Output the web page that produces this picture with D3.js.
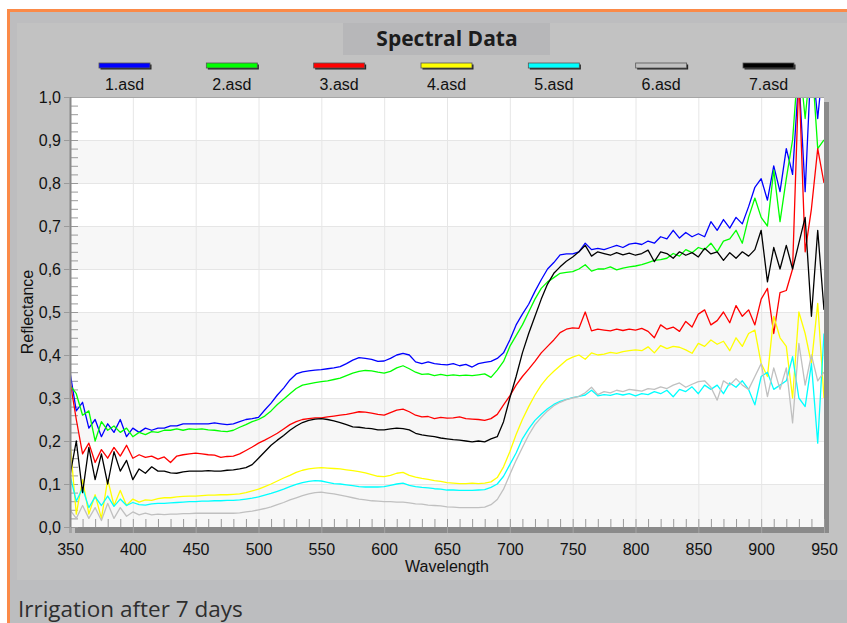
<!DOCTYPE html>
<html>
<head>
<meta charset="utf-8">
<script src="https://cdn.jsdelivr.net/npm/d3@7"></script>
<style>
  body { margin: 0; background: #ffffff; }
  svg { display: block; }
</style>
</head>
<body>
<div id="wrapper"></div>
<script>
// ---------- DATA -----------------------------------------------
const seriesNames = ["1.asd", "2.asd", "3.asd", "4.asd", "5.asd", "6.asd", "7.asd"];
const seriesColors = ["#0000ff", "#00ff00", "#ff0000", "#ffff00", "#00ffff", "#c0c0c0", "#000000"];

// wavelength grid, 350 to 950 nm every 5 nm
const wavelengths = d3.range(350, 951, 5);

const refl1 = [
  0.36, 0.27, 0.29, 0.23, 0.25, 0.21, 0.24, 0.22, 0.25, 0.21,
  0.23, 0.22, 0.23, 0.225, 0.23, 0.23, 0.235, 0.235, 0.24, 0.24,
  0.24, 0.24, 0.24, 0.242, 0.24, 0.238, 0.24, 0.245, 0.25, 0.252,
  0.255, 0.272, 0.288, 0.307, 0.323, 0.342, 0.356, 0.361, 0.363, 0.365,
  0.366, 0.368, 0.37, 0.373, 0.38, 0.388, 0.394, 0.392, 0.39, 0.385,
  0.386, 0.392, 0.4, 0.404, 0.4, 0.384, 0.38, 0.384, 0.38, 0.378,
  0.377, 0.38, 0.375, 0.378, 0.372, 0.38, 0.383, 0.385, 0.392, 0.405,
  0.435, 0.47, 0.495, 0.518, 0.548, 0.575, 0.6, 0.615, 0.633, 0.635,
  0.635, 0.64, 0.66, 0.645, 0.648, 0.645, 0.65, 0.655, 0.65, 0.658,
  0.66, 0.657, 0.665, 0.66, 0.675, 0.67, 0.69, 0.672, 0.685, 0.675,
  0.682, 0.675, 0.71, 0.69, 0.715, 0.695, 0.72, 0.705, 0.745, 0.79,
  0.81, 0.76, 0.84, 0.78, 0.88, 0.82, 1.05, 0.78, 1.1, 0.95, 1.1
];
const refl2 = [
  0.33, 0.31, 0.26, 0.27, 0.2, 0.245, 0.225, 0.235, 0.22, 0.23,
  0.21, 0.22, 0.215, 0.222, 0.22, 0.225, 0.225, 0.228, 0.225, 0.228,
  0.227, 0.228, 0.226, 0.225, 0.223, 0.222, 0.225, 0.232, 0.238, 0.245,
  0.25, 0.258, 0.27, 0.285, 0.297, 0.31, 0.322, 0.33, 0.333, 0.336,
  0.338, 0.34, 0.343, 0.346, 0.352, 0.358, 0.362, 0.364, 0.363, 0.36,
  0.358, 0.362, 0.37, 0.375, 0.368, 0.36, 0.355, 0.356, 0.352, 0.355,
  0.352, 0.354, 0.352, 0.353, 0.352, 0.354, 0.356, 0.348, 0.365, 0.385,
  0.42, 0.445, 0.47, 0.5, 0.53, 0.555, 0.57, 0.58, 0.59, 0.592,
  0.594, 0.6, 0.61, 0.595, 0.6, 0.6, 0.605, 0.598, 0.602, 0.605,
  0.607, 0.61, 0.615, 0.62, 0.622, 0.625, 0.636, 0.63, 0.645, 0.638,
  0.65, 0.645, 0.66, 0.64, 0.665, 0.67, 0.69, 0.66, 0.72, 0.765,
  0.72, 0.7, 0.83, 0.71, 0.81, 0.9, 1.1, 0.95, 1.1, 0.88, 0.9
];
const refl3 = [
  0.34, 0.25, 0.17, 0.195, 0.15, 0.18, 0.16, 0.185, 0.165, 0.19,
  0.16, 0.168, 0.162, 0.165, 0.158, 0.163, 0.15, 0.165, 0.168, 0.17,
  0.172, 0.17, 0.168, 0.167, 0.162, 0.164, 0.165, 0.17, 0.178, 0.186,
  0.195, 0.202, 0.21, 0.218, 0.228, 0.238, 0.245, 0.25, 0.252, 0.254,
  0.254, 0.256, 0.258, 0.26, 0.262, 0.265, 0.268, 0.267, 0.265, 0.262,
  0.26, 0.266, 0.272, 0.274, 0.268, 0.26, 0.256, 0.257, 0.252, 0.255,
  0.253, 0.254, 0.256, 0.252, 0.251, 0.25, 0.248, 0.252, 0.262, 0.284,
  0.305, 0.33, 0.35, 0.367, 0.385, 0.405, 0.42, 0.435, 0.452, 0.46,
  0.463, 0.462, 0.5, 0.456, 0.46, 0.458, 0.456, 0.46, 0.457, 0.46,
  0.458, 0.462, 0.455, 0.44, 0.47, 0.46, 0.465, 0.455, 0.478, 0.465,
  0.495, 0.505, 0.47, 0.48, 0.5, 0.475, 0.515, 0.49, 0.505, 0.47,
  0.53, 0.555, 0.45, 0.545, 0.55, 0.6, 1.05, 0.64, 0.74, 0.88, 0.8
];
const refl4 = [
  0.2, 0.03, 0.11, 0.03, 0.075, 0.02, 0.11, 0.05, 0.085, 0.05,
  0.065, 0.058, 0.063, 0.062, 0.066, 0.068, 0.068, 0.07, 0.071, 0.072,
  0.072, 0.073, 0.074, 0.074, 0.075, 0.075, 0.076, 0.077, 0.08, 0.084,
  0.088, 0.094, 0.1, 0.107, 0.114, 0.12, 0.127, 0.132, 0.135, 0.137,
  0.138, 0.137, 0.136, 0.135, 0.133, 0.131, 0.129, 0.126, 0.122, 0.118,
  0.117, 0.12, 0.125, 0.127, 0.12, 0.116, 0.113, 0.111, 0.108, 0.106,
  0.103, 0.102, 0.101, 0.101, 0.102, 0.101, 0.102, 0.105, 0.115, 0.14,
  0.175, 0.215, 0.25, 0.28, 0.307, 0.33, 0.348, 0.362, 0.375, 0.388,
  0.395, 0.4, 0.39, 0.405, 0.4, 0.402, 0.406, 0.404, 0.408, 0.41,
  0.412, 0.41, 0.419, 0.405, 0.422, 0.415, 0.42, 0.418, 0.412, 0.404,
  0.427, 0.42, 0.435, 0.425, 0.432, 0.41, 0.44, 0.42, 0.45, 0.458,
  0.38, 0.35, 0.49, 0.44, 0.42, 0.3, 0.5, 0.45, 0.38, 0.52, 0.3
];
const refl5 = [
  0.12, 0.06, 0.09, 0.045, 0.07, 0.05, 0.072, 0.048, 0.065, 0.05,
  0.057, 0.052, 0.051, 0.054, 0.055, 0.055, 0.056, 0.057, 0.058, 0.059,
  0.059, 0.06, 0.06, 0.061, 0.061, 0.062, 0.062, 0.063, 0.065, 0.067,
  0.07, 0.074, 0.078, 0.083, 0.088, 0.094, 0.099, 0.103, 0.106, 0.108,
  0.107, 0.104, 0.101, 0.1, 0.098, 0.096, 0.094, 0.093, 0.093, 0.093,
  0.094, 0.097, 0.1, 0.102, 0.097, 0.094, 0.092, 0.091, 0.089, 0.088,
  0.086, 0.086, 0.085, 0.085, 0.085, 0.086, 0.087, 0.092, 0.1, 0.118,
  0.145, 0.172, 0.205, 0.228, 0.248, 0.262, 0.275, 0.285, 0.292, 0.297,
  0.301, 0.304, 0.307, 0.318, 0.305, 0.308, 0.306, 0.31, 0.307, 0.31,
  0.305, 0.31, 0.308, 0.315, 0.31, 0.318, 0.303, 0.32, 0.315, 0.326,
  0.31, 0.33, 0.32, 0.33, 0.31, 0.335, 0.325, 0.34, 0.32, 0.284,
  0.35, 0.36, 0.32, 0.33, 0.34, 0.396, 0.3, 0.28, 0.38, 0.195, 0.45
];
const refl6 = [
  0.04, 0.02, 0.05, 0.02, 0.045, 0.015, 0.055, 0.02, 0.045, 0.025,
  0.035, 0.028, 0.032, 0.028, 0.03, 0.029, 0.03, 0.03, 0.031, 0.031,
  0.032, 0.032, 0.032, 0.032, 0.032, 0.032, 0.032, 0.033, 0.035, 0.037,
  0.04, 0.043, 0.047, 0.052, 0.057, 0.063, 0.068, 0.073, 0.077, 0.08,
  0.081, 0.079, 0.077, 0.074, 0.071, 0.068, 0.065, 0.063, 0.061, 0.06,
  0.059, 0.059, 0.058, 0.058, 0.056, 0.054, 0.053, 0.051, 0.05, 0.049,
  0.047, 0.046, 0.045, 0.045, 0.045, 0.045, 0.046, 0.052, 0.064, 0.088,
  0.122, 0.155, 0.185, 0.214, 0.238, 0.255, 0.27, 0.282, 0.29, 0.296,
  0.3, 0.304, 0.312, 0.325, 0.308, 0.315, 0.312, 0.318, 0.315, 0.32,
  0.318, 0.316, 0.322, 0.32, 0.326, 0.322, 0.33, 0.335, 0.325, 0.332,
  0.338, 0.34, 0.325, 0.295, 0.34, 0.33, 0.345, 0.33, 0.32, 0.35,
  0.38, 0.303, 0.37, 0.32, 0.37, 0.242, 0.427, 0.33, 0.4, 0.34, 0.36
];
const refl7 = [
  0.12, 0.2, 0.08, 0.185, 0.11, 0.17, 0.1, 0.175, 0.13, 0.155,
  0.11, 0.135, 0.125, 0.14, 0.13, 0.13, 0.126, 0.125, 0.128, 0.13,
  0.13, 0.13, 0.131, 0.13, 0.13, 0.132, 0.133, 0.135, 0.138, 0.145,
  0.16, 0.175, 0.19, 0.202, 0.213, 0.225, 0.235, 0.243, 0.248, 0.251,
  0.252, 0.25, 0.247, 0.243, 0.238, 0.233, 0.232, 0.23, 0.229, 0.226,
  0.226, 0.228, 0.23, 0.229, 0.226, 0.218, 0.214, 0.212, 0.21, 0.207,
  0.205, 0.203, 0.202, 0.2, 0.198, 0.2, 0.198, 0.205, 0.21, 0.245,
  0.3, 0.35, 0.405, 0.45, 0.49, 0.53, 0.565, 0.59, 0.605, 0.618,
  0.628, 0.64, 0.655, 0.63, 0.64, 0.636, 0.632, 0.638, 0.633, 0.637,
  0.632, 0.636, 0.644, 0.617, 0.64, 0.636, 0.625, 0.64, 0.632, 0.638,
  0.628, 0.648, 0.635, 0.64, 0.62, 0.638, 0.625, 0.64, 0.63, 0.645,
  0.69, 0.57, 0.65, 0.6, 0.655, 0.6, 0.66, 0.72, 0.49, 0.69, 0.505
];

const xTicks = [350, 400, 450, 500, 550, 600, 650, 700, 750, 800, 850, 900, 950];
const yTicks = [0, 0.1, 0.2, 0.3, 0.4, 0.5, 0.6, 0.7, 0.8, 0.9, 1.0];

const chartTitle = "Spectral Data";
const caption = "Irrigation after 7 days";

async function drawChart() {

  // ---------- BUILD SERIES -----------------------------------------------
  const allRefl = [refl1, refl2, refl3, refl4, refl5, refl6, refl7];
  const series = seriesNames.map((name, i) => ({
    name: name,
    color: seriesColors[i],
    values: wavelengths.map((wl, j) => ({ wl: wl, r: allRefl[i][j] })),
  }));

  // ---------- CREATE DIMENSIONS ----------------------------------------
  let dimensions = {
    width: 847,
    height: 623,
    margin: { top: 97, right: 23, bottom: 96, left: 70 },
  };
  dimensions.boundedWidth =
    dimensions.width - dimensions.margin.left - dimensions.margin.right;
  dimensions.boundedHeight =
    dimensions.height - dimensions.margin.top - dimensions.margin.bottom;

  const axisFont = "'Liberation Sans', Arial, sans-serif";
  const titleFont = "'Open Sans', 'Noto Sans', sans-serif";

  // ---------- SVG ----------------------------------------
  const svg = d3
    .select("#wrapper")
    .append("svg")
    .attr("width", dimensions.width)
    .attr("height", dimensions.height);

  // outer orange framed panel
  svg.append("rect")
    .attr("x", 8.5).attr("y", 10.5)
    .attr("width", 860).attr("height", 640)
    .attr("fill", "#bdbdbf")
    .attr("stroke", "#fb8a48")
    .attr("stroke-width", 3);

  // inner chart panel
  svg.append("rect")
    .attr("x", 17).attr("y", 23)
    .attr("width", 840).attr("height", 557)
    .attr("fill", "#c2c2c2");

  // caption band
  svg.append("rect")
    .attr("x", 10).attr("y", 580)
    .attr("width", 850).attr("height", 60)
    .attr("fill", "#bcbdbf");

  // title box
  svg.append("rect")
    .attr("x", 343).attr("y", 23)
    .attr("width", 207).attr("height", 32)
    .attr("fill", "#b7b7b9");

  svg.append("text")
    .attr("x", 447).attr("y", 46)
    .attr("text-anchor", "middle")
    .style("font-family", titleFont)
    .style("font-weight", "700")
    .style("font-size", "21px")
    .attr("fill", "#1c1c1c")
    .text(chartTitle);

  svg.append("text")
    .attr("x", 18).attr("y", 617)
    .style("font-family", titleFont)
    .style("font-size", "22.5px")
    .attr("fill", "#2e2e2e")
    .text(caption);

  // ---------- SCALES ----------------------------------------
  const xScale = d3.scaleLinear()
    .domain([350, 950])
    .range([0, dimensions.boundedWidth]);

  const yScale = d3.scaleLinear()
    .domain([0, 1])
    .range([dimensions.boundedHeight, 0]);

  const commaFormat = d3.formatLocale({
    decimal: ",", thousands: ".", grouping: [3], currency: ["", ""],
  }).format(".1f");

  // ---------- LEGEND ----------------------------------------
  const legendScale = d3.scalePoint()
    .domain(seriesNames)
    .range([124.5, 768.5]);

  const legend = svg.append("g").attr("class", "legend");
  const items = legend.selectAll("g").data(series).join("g")
    .attr("transform", (d) => `translate(${legendScale(d.name)}, 0)`);

  items.append("rect")
    .attr("x", -24).attr("y", 64.5)
    .attr("width", 51).attr("height", 5)
    .attr("fill", "#222222");
  items.append("rect")
    .attr("x", -25.5).attr("y", 63)
    .attr("width", 51).attr("height", 5)
    .attr("fill", (d) => d.color)
    .attr("stroke", "#555555")
    .attr("stroke-width", 0.8);
  items.append("text")
    .attr("y", 90)
    .attr("text-anchor", "middle")
    .style("font-family", axisFont)
    .style("font-size", "16px")
    .attr("fill", "#111111")
    .text((d) => d.name);

  // ---------- PLOT AREA ----------------------------------------
  const boundingBox = svg.append("g")
    .attr("transform", `translate(${dimensions.margin.left}, ${dimensions.margin.top})`);

  // drop shadow right and bottom
  boundingBox.append("rect")
    .attr("x", 5).attr("y", 5)
    .attr("width", dimensions.boundedWidth).attr("height", dimensions.boundedHeight + 1)
    .attr("fill", "#8a8a8a");

  boundingBox.append("rect")
    .attr("width", dimensions.boundedWidth)
    .attr("height", dimensions.boundedHeight)
    .attr("fill", "#ffffff");

  // alternate horizontal bands
  const bandStarts = yTicks.filter((t, i) => i % 2 === 0 && t < 1);
  boundingBox.append("g").selectAll("rect").data(bandStarts).join("rect")
    .attr("x", 0)
    .attr("width", dimensions.boundedWidth)
    .attr("y", (d) => yScale(d + 0.1))
    .attr("height", (d) => yScale(d) - yScale(d + 0.1))
    .attr("fill", "#f7f7f7");

  // grid lines
  boundingBox.append("g").selectAll("line").data(yTicks.slice(1, -1)).join("line")
    .attr("x1", 0).attr("x2", dimensions.boundedWidth)
    .attr("y1", (d) => yScale(d) + 0.5).attr("y2", (d) => yScale(d) + 0.5)
    .attr("stroke", "#e6e6e6");
  boundingBox.append("g").selectAll("line").data(xTicks.slice(1, -1)).join("line")
    .attr("x1", (d) => xScale(d) + 0.5).attr("x2", (d) => xScale(d) + 0.5)
    .attr("y1", 0).attr("y2", dimensions.boundedHeight)
    .attr("stroke", "#e6e6e6");

  // minor ticks inside the frame
  const yMinor = d3.axisRight(yScale)
    .tickValues(d3.range(0, 51).map((i) => i / 50))
    .tickSize(8)
    .tickFormat("");
  boundingBox.append("g").attr("class", "y-minor").call(yMinor)
    .call((g) => g.select(".domain").remove())
    .call((g) => g.selectAll("line").attr("stroke", "#9a9a9a"));

  const xMinor = d3.axisTop(xScale)
    .tickValues(d3.range(0, 61).map((i) => 350 + i * 10))
    .tickSize(8)
    .tickFormat("");
  boundingBox.append("g").attr("class", "x-minor")
    .attr("transform", `translate(0, ${dimensions.boundedHeight})`)
    .call(xMinor)
    .call((g) => g.select(".domain").remove())
    .call((g) => g.selectAll("line").attr("stroke", "#9a9a9a"));

  // ---------- DRAW SPECTRA ----------------------------------------
  boundingBox.append("clipPath").attr("id", "plot-clip")
    .append("rect")
    .attr("width", dimensions.boundedWidth)
    .attr("height", dimensions.boundedHeight);

  const lineGenerator = d3.line()
    .x((d) => xScale(d.wl))
    .y((d) => yScale(d.r));

  boundingBox.append("g").attr("clip-path", "url(#plot-clip)")
    .selectAll("path").data(series).join("path")
    .attr("d", (d) => lineGenerator(d.values))
    .attr("fill", "none")
    .attr("stroke", (d) => d.color)
    .attr("stroke-width", 1.3)
    .attr("stroke-linejoin", "round");

  // frame: top border and left axis line
  boundingBox.append("line")
    .attr("x1", 0).attr("x2", dimensions.boundedWidth)
    .attr("y1", 0.5).attr("y2", 0.5)
    .attr("stroke", "#a6a6a6");
  boundingBox.append("line")
    .attr("x1", 0.5).attr("x2", 0.5)
    .attr("y1", 0).attr("y2", dimensions.boundedHeight + 6)
    .attr("stroke", "#8a8a8a")
    .attr("stroke-width", 2);

  // ---------- AXES ----------------------------------------
  const yAxisGenerator = d3.axisLeft(yScale)
    .tickValues(yTicks)
    .tickFormat(commaFormat)
    .tickSize(6)
    .tickPadding(3);
  const yAxis = boundingBox.append("g").attr("class", "y-axis").call(yAxisGenerator);
  yAxis.select(".domain").remove();
  yAxis.selectAll("line").attr("stroke", "#9a9a9a");
  yAxis.selectAll("text")
    .style("font-family", axisFont)
    .style("font-size", "16px")
    .attr("fill", "#111111");

  const xAxisGenerator = d3.axisBottom(xScale)
    .tickValues(xTicks)
    .tickFormat(d3.format("d"))
    .tickSize(6)
    .tickPadding(11);
  const xAxis = boundingBox.append("g").attr("class", "x-axis")
    .attr("transform", `translate(0, ${dimensions.boundedHeight})`)
    .call(xAxisGenerator);
  xAxis.select(".domain").remove();
  xAxis.selectAll("line").attr("stroke", "#a4a4a4");
  xAxis.selectAll("text")
    .style("font-family", axisFont)
    .style("font-size", "16px")
    .attr("fill", "#111111");

  xAxis.append("text")
    .attr("x", xScale(650))
    .attr("y", 45)
    .attr("text-anchor", "middle")
    .style("font-family", axisFont)
    .style("font-size", "16px")
    .attr("fill", "#111111")
    .text("Wavelength");

  svg.append("text")
    .attr("transform", `translate(33, ${dimensions.margin.top + yScale(0.5)}) rotate(-90)`)
    .attr("text-anchor", "middle")
    .style("font-family", axisFont)
    .style("font-size", "16px")
    .attr("fill", "#111111")
    .text("Reflectance");
}

drawChart();
</script>
</body>
</html>
